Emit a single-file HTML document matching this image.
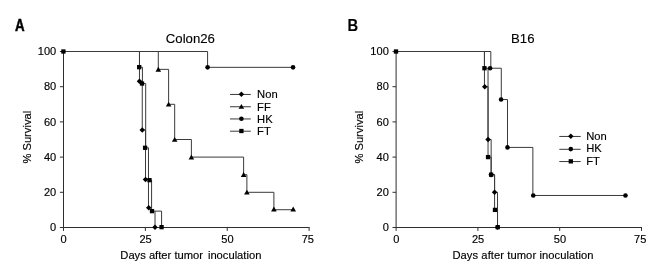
<!DOCTYPE html>
<html><head><meta charset="utf-8"><title>Survival</title>
<style>
html,body{margin:0;padding:0;background:#fff;}
svg{display:block}
.t{font-family:"Liberation Sans",sans-serif;font-size:11.2px;fill:#000;stroke:#000;stroke-width:0.15px}
.n{font-size:11.05px}
.ti{font-family:"Liberation Sans",sans-serif;font-size:13.2px;fill:#000;stroke:#000;stroke-width:0.12px}
.pl{font-family:"Liberation Sans",sans-serif;font-size:15.7px;font-weight:bold;fill:#000;stroke:#000;stroke-width:0.45px}
</style></head><body>
<svg width="665" height="269" viewBox="0 0 665 269">
<rect width="665" height="269" fill="#fff"/>
<path d="M63.50 51.00V227.50H309.60" fill="none" stroke="#2e2e2e" stroke-width="1"/>
<path d="M59.90 227.50H63.50" stroke="#2e2e2e" stroke-width="1"/>
<text x="56.20" y="231.20" text-anchor="end" class="t n">0</text>
<path d="M59.90 192.30H63.50" stroke="#2e2e2e" stroke-width="1"/>
<text x="56.20" y="196.00" text-anchor="end" class="t n">20</text>
<path d="M59.90 157.10H63.50" stroke="#2e2e2e" stroke-width="1"/>
<text x="56.20" y="160.80" text-anchor="end" class="t n">40</text>
<path d="M59.90 121.90H63.50" stroke="#2e2e2e" stroke-width="1"/>
<text x="56.20" y="125.60" text-anchor="end" class="t n">60</text>
<path d="M59.90 86.70H63.50" stroke="#2e2e2e" stroke-width="1"/>
<text x="56.20" y="90.40" text-anchor="end" class="t n">80</text>
<path d="M59.90 51.50H63.50" stroke="#2e2e2e" stroke-width="1"/>
<text x="56.20" y="55.20" text-anchor="end" class="t n">100</text>
<path d="M63.50 227.50V230.90" stroke="#2e2e2e" stroke-width="1"/>
<text x="63.70" y="242.8" text-anchor="middle" class="t n">0</text>
<path d="M145.37 227.50V230.90" stroke="#2e2e2e" stroke-width="1"/>
<text x="145.57" y="242.8" text-anchor="middle" class="t n">25</text>
<path d="M227.24 227.50V230.90" stroke="#2e2e2e" stroke-width="1"/>
<text x="227.44" y="242.8" text-anchor="middle" class="t n">50</text>
<path d="M309.10 227.50V230.90" stroke="#2e2e2e" stroke-width="1"/>
<text x="307.80" y="242.8" text-anchor="middle" class="t n">75</text>
<text x="120.30" y="259.2" class="t">Days after tumor <tspan dx="1.8">inoculation</tspan></text>
<text transform="translate(30.70 137.2) rotate(-90)" text-anchor="middle" class="t">% Survival</text>
<path d="M207.59 51.50H207.59V67.34H293.06V67.34" fill="none" stroke="#3a3a3a" stroke-width="1.0"/>
<path d="M158.30 51.50H158.30V69.36H168.62V104.30H174.68V139.50H191.38V157.10H243.61V174.70H246.88V192.30H273.90V209.72H293.22V209.72" fill="none" stroke="#3a3a3a" stroke-width="1.0"/>
<path d="M139.47 51.50H139.47V81.24H142.26V130.00H145.53V179.45H148.48V207.79M155.03 211.13V227.15" fill="none" stroke="#3a3a3a" stroke-width="1.0"/>
<path d="M139.47 51.50H139.47V67.16H142.42V83.53H145.69V147.77H148.48V180.16H151.59V211.13H161.58V227.15" fill="none" stroke="#3a3a3a" stroke-width="1.0"/>
<path d="M63.50 51.50H207.59" stroke="#3a3a3a" stroke-width="1.0"/>
<circle cx="207.59" cy="67.34" r="2.3" fill="#000"/>
<circle cx="293.06" cy="67.34" r="2.3" fill="#000"/>
<path d="M158.30 66.76L161.10 71.66L155.50 71.66Z" fill="#000"/>
<path d="M168.62 101.70L171.42 106.60L165.82 106.60Z" fill="#000"/>
<path d="M174.68 136.90L177.48 141.80L171.88 141.80Z" fill="#000"/>
<path d="M191.38 154.50L194.18 159.40L188.58 159.40Z" fill="#000"/>
<path d="M243.61 172.10L246.41 177.00L240.81 177.00Z" fill="#000"/>
<path d="M246.88 189.70L249.68 194.60L244.08 194.60Z" fill="#000"/>
<path d="M273.90 206.62L276.70 211.52L271.10 211.52Z" fill="#000"/>
<path d="M293.22 206.62L296.02 211.52L290.42 211.52Z" fill="#000"/>
<path d="M136.72 81.24L139.47 78.49L142.22 81.24L139.47 83.99Z" fill="#000"/>
<path d="M139.51 130.00L142.26 127.25L145.01 130.00L142.26 132.75Z" fill="#000"/>
<path d="M142.78 179.45L145.53 176.70L148.28 179.45L145.53 182.20Z" fill="#000"/>
<path d="M146.03 207.79L148.78 205.04L151.53 207.79L148.78 210.54Z" fill="#000"/>
<path d="M152.28 227.15L155.03 224.40L157.78 227.15L155.03 229.90Z" fill="#000"/>
<rect x="137.02" y="65.01" width="4.30" height="4.30" fill="#000"/>
<rect x="139.87" y="81.38" width="4.30" height="4.30" fill="#000"/>
<rect x="142.94" y="145.62" width="4.30" height="4.30" fill="#000"/>
<rect x="147.33" y="178.01" width="4.30" height="4.30" fill="#000"/>
<rect x="149.84" y="208.98" width="4.30" height="4.30" fill="#000"/>
<rect x="159.43" y="225.00" width="4.30" height="4.30" fill="#000"/>
<rect x="61.25" y="49.35" width="4.30" height="4.30" fill="#000"/>
<text x="190.4" y="43.1" text-anchor="middle" class="ti">Colon26</text>
<path d="M230 94.45H250.8" stroke="#3a3a3a" stroke-width="1.0"/>
<path d="M238.65 94.25L241.40 91.50L244.15 94.25L241.40 97.00Z" fill="#000"/>
<text x="257.1" y="98.40" class="t">Non</text>
<path d="M230 106.75H250.8" stroke="#3a3a3a" stroke-width="1.0"/>
<path d="M241.40 103.95L244.20 108.85L238.60 108.85Z" fill="#000"/>
<text x="257.1" y="110.55" class="t">FF</text>
<path d="M230 118.95H250.8" stroke="#3a3a3a" stroke-width="1.0"/>
<circle cx="241.40" cy="118.75" r="2.3" fill="#000"/>
<text x="257.1" y="122.80" class="t">HK</text>
<path d="M230 131.2H250.8" stroke="#3a3a3a" stroke-width="1.0"/>
<rect x="239.25" y="128.85" width="4.30" height="4.30" fill="#000"/>
<text x="257.1" y="135.00" class="t">FT</text>
<text transform="translate(15.0 30.9) scale(0.85 1)" class="pl">A</text>
<path d="M396.10 51.00V227.50H642.00" fill="none" stroke="#2e2e2e" stroke-width="1"/>
<path d="M392.50 227.50H396.10" stroke="#2e2e2e" stroke-width="1"/>
<text x="388.80" y="231.20" text-anchor="end" class="t n">0</text>
<path d="M392.50 192.30H396.10" stroke="#2e2e2e" stroke-width="1"/>
<text x="388.80" y="196.00" text-anchor="end" class="t n">20</text>
<path d="M392.50 157.10H396.10" stroke="#2e2e2e" stroke-width="1"/>
<text x="388.80" y="160.80" text-anchor="end" class="t n">40</text>
<path d="M392.50 121.90H396.10" stroke="#2e2e2e" stroke-width="1"/>
<text x="388.80" y="125.60" text-anchor="end" class="t n">60</text>
<path d="M392.50 86.70H396.10" stroke="#2e2e2e" stroke-width="1"/>
<text x="388.80" y="90.40" text-anchor="end" class="t n">80</text>
<path d="M392.50 51.50H396.10" stroke="#2e2e2e" stroke-width="1"/>
<text x="388.80" y="55.20" text-anchor="end" class="t n">100</text>
<path d="M396.10 227.50V230.90" stroke="#2e2e2e" stroke-width="1"/>
<text x="396.30" y="242.8" text-anchor="middle" class="t n">0</text>
<path d="M477.90 227.50V230.90" stroke="#2e2e2e" stroke-width="1"/>
<text x="478.10" y="242.8" text-anchor="middle" class="t n">25</text>
<path d="M559.70 227.50V230.90" stroke="#2e2e2e" stroke-width="1"/>
<text x="559.90" y="242.8" text-anchor="middle" class="t n">50</text>
<path d="M641.50 227.50V230.90" stroke="#2e2e2e" stroke-width="1"/>
<text x="640.20" y="242.8" text-anchor="middle" class="t n">75</text>
<text x="452.40" y="259.2" class="t" style="letter-spacing:0.07px">Days after tumor inoculation</text>
<text transform="translate(363.30 137.2) rotate(-90)" text-anchor="middle" class="t">% Survival</text>
<path d="M490.82 51.50H490.82V68.22H501.29V99.55H507.51V147.42H532.87V195.47H625.47V195.47" fill="none" stroke="#3a3a3a" stroke-width="1.0"/>
<path d="M484.44 51.50H484.44V86.70H488.04V139.50H491.15V174.70H494.59V192.30H497.53V227.15" fill="none" stroke="#3a3a3a" stroke-width="1.0"/>
<path d="M484.44 51.50H484.44V68.22H488.04V157.10H491.15V174.70H494.59V209.90H497.53V227.15" fill="none" stroke="#3a3a3a" stroke-width="1.0"/>
<path d="M396.10 51.50H490.82" stroke="#3a3a3a" stroke-width="1.0"/>
<circle cx="490.12" cy="68.22" r="2.3" fill="#000"/>
<circle cx="501.09" cy="99.55" r="2.3" fill="#000"/>
<circle cx="507.51" cy="147.42" r="2.3" fill="#000"/>
<circle cx="533.27" cy="195.47" r="2.3" fill="#000"/>
<circle cx="625.47" cy="195.47" r="2.3" fill="#000"/>
<path d="M481.99 86.70L484.74 83.95L487.49 86.70L484.74 89.45Z" fill="#000"/>
<path d="M485.29 139.50L488.04 136.75L490.79 139.50L488.04 142.25Z" fill="#000"/>
<path d="M488.40 174.70L491.15 171.95L493.90 174.70L491.15 177.45Z" fill="#000"/>
<path d="M491.84 192.30L494.59 189.55L497.34 192.30L494.59 195.05Z" fill="#000"/>
<path d="M494.78 227.15L497.53 224.40L500.28 227.15L497.53 229.90Z" fill="#000"/>
<rect x="482.29" y="66.07" width="4.30" height="4.30" fill="#000"/>
<rect x="485.89" y="154.95" width="4.30" height="4.30" fill="#000"/>
<rect x="489.00" y="172.55" width="4.30" height="4.30" fill="#000"/>
<rect x="492.84" y="207.75" width="4.30" height="4.30" fill="#000"/>
<rect x="495.58" y="225.00" width="4.30" height="4.30" fill="#000"/>
<rect x="393.85" y="49.35" width="4.30" height="4.30" fill="#000"/>
<text x="522.8" y="43.1" text-anchor="middle" class="ti">B16</text>
<path d="M559.3 136.45H580.7" stroke="#3a3a3a" stroke-width="1.0"/>
<path d="M568.05 136.25L570.80 133.50L573.55 136.25L570.80 139.00Z" fill="#000"/>
<text x="586.2" y="139.50" class="t">Non</text>
<path d="M559.3 149.3H580.7" stroke="#3a3a3a" stroke-width="1.0"/>
<circle cx="570.80" cy="149.10" r="2.3" fill="#000"/>
<text x="586.2" y="152.30" class="t">HK</text>
<path d="M559.3 161.55H580.7" stroke="#3a3a3a" stroke-width="1.0"/>
<rect x="568.65" y="159.20" width="4.30" height="4.30" fill="#000"/>
<text x="586.2" y="164.80" class="t">FT</text>
<text transform="translate(347.6 30.9) scale(0.94 1)" class="pl" style="stroke-width:0.1px">B</text>
</svg>
</body></html>
